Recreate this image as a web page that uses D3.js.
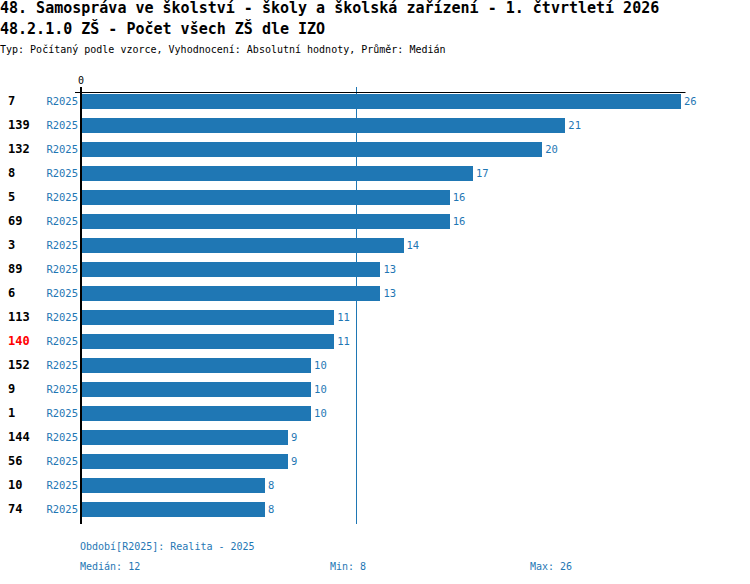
<!DOCTYPE html>
<html>
<head>
<meta charset="utf-8">
<script src="https://cdn.jsdelivr.net/npm/d3@7"></script>
<style>
  body { margin:0; background:#fff; }
  svg text { font-family: "DejaVu Sans Mono", "Liberation Mono", monospace; }
</style>
</head>
<body>
<div id="chart"></div>
<script>
// data
var ids    = ["7","139","132","8","5","69","3","89","6","113","140","152","9","1","144","56","10","74"]
var values = [26, 21, 20, 17, 16, 16, 14, 13, 13, 11, 11, 10, 10, 10, 9, 9, 8, 8]
var periods = ["R2025","R2025","R2025","R2025","R2025","R2025","R2025","R2025","R2025",
               "R2025","R2025","R2025","R2025","R2025","R2025","R2025","R2025","R2025"]
var highlight = ["140"]
var titleLines = ["48. Samospráva ve školství - školy a školská zařízení - 1. čtvrtletí 2026",
                  "48.2.1.0 ZŠ - Počet všech ZŠ dle IZO"]
var subtitle = "Typ: Počítaný podle vzorce, Vyhodnocení: Absolutní hodnoty, Průměr: Medián"
var legendLine = "Období[R2025]: Realita - 2025"

var blue = "#1f77b4"
var W = 750, H = 584

var svg = d3.select("#chart").append("svg")
  .attr("width", W).attr("height", H)

// titles
svg.selectAll("text.title").data(titleLines).enter().append("text")
  .attr("class", "title")
  .attr("x", 0).attr("y", function(d, i){ return 13 + i*21 })
  .attr("font-size", 15).attr("font-weight", "bold")
  .text(function(d){ return d })
svg.append("text").attr("x", 0).attr("y", 53)
  .attr("font-size", 10).text(subtitle)

var x = d3.scaleLinear().domain([0, 26.2]).range([80, 685.5])
var y = d3.scaleBand().domain(ids).range([89, 521])
  .paddingInner(0.375).paddingOuter(0.1875)

var rows = ids.map(function(id, i){ return {id:id, v:values[i], p:periods[i]} })

// bars
svg.selectAll("rect.bar").data(rows).enter().append("rect")
  .attr("class", "bar")
  .attr("x", x(0)).attr("y", function(d){ return y(d.id) })
  .attr("width", function(d){ return x(d.v) - x(0) })
  .attr("height", y.bandwidth())
  .attr("fill", blue).attr("shape-rendering", "crispEdges")

// median line
var med = d3.median(values)
var mx = Math.floor(x(med)) - 0.5
svg.append("line")
  .attr("x1", mx).attr("x2", mx)
  .attr("y1", 87).attr("y2", 524)
  .attr("stroke", blue).attr("stroke-width", 1)

// axes lines
svg.append("line").attr("x1", x(0) + 1).attr("x2", x(0) + 1)
  .attr("y1", 87).attr("y2", 524)
  .attr("stroke", "#000").attr("stroke-width", 2)
svg.append("line").attr("x1", x(0) - 5).attr("x2", x.range()[1])
  .attr("y1", 92.5).attr("y2", 92.5)
  .attr("stroke", "#000").attr("stroke-width", 1)
svg.append("text").attr("x", x(0) + 1).attr("y", 84)
  .attr("text-anchor", "middle").attr("font-size", 10).text(x.domain()[0])

// row labels
var cy = function(d){ return y(d.id) + y.bandwidth()/2 + 4 }
svg.selectAll("text.id").data(rows).enter().append("text")
  .attr("x", 8).attr("y", cy)
  .attr("font-size", 12).attr("font-weight", "bold")
  .attr("fill", function(d){ return highlight.indexOf(d.id) >= 0 ? "#ff0000" : "#000" })
  .text(function(d){ return d.id })
svg.selectAll("text.per").data(rows).enter().append("text")
  .attr("x", 78).attr("y", cy)
  .attr("text-anchor", "end").attr("font-size", 10.5).attr("fill", blue)
  .text(function(d){ return d.p })
svg.selectAll("text.val").data(rows).enter().append("text")
  .attr("x", function(d){ return x(d.v) + 3 }).attr("y", cy)
  .attr("font-size", 10.5).attr("fill", blue)
  .text(function(d){ return d.v })

// footer
svg.append("text").attr("x", 80).attr("y", 550)
  .attr("font-size", 10).attr("fill", blue).text(legendLine)
var stats = [["Medián: " + med, 80], ["Min: " + d3.min(values), 330], ["Max: " + d3.max(values), 530]]
svg.selectAll("text.stat").data(stats).enter().append("text")
  .attr("x", function(d){ return d[1] }).attr("y", 570)
  .attr("font-size", 10).attr("fill", blue)
  .text(function(d){ return d[0] })
</script>
</body>
</html>
